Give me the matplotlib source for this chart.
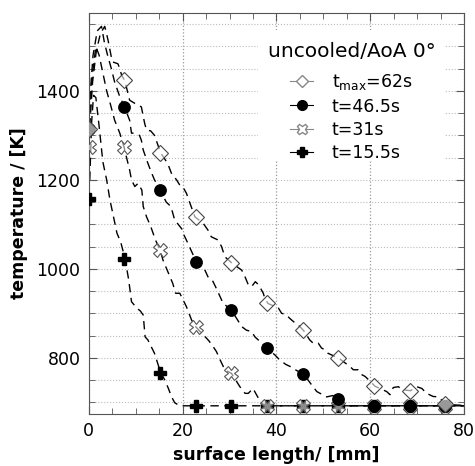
import matplotlib
matplotlib.use("Agg")
import matplotlib.pyplot as plt
from matplotlib.lines import Line2D
from matplotlib.patches import Rectangle
from matplotlib.ticker import MultipleLocator

plt.rcParams['font.family'] = ['DejaVu Sans']

# marker positions along the surface [mm]
mk_x = [0, 7.6, 15.2, 22.8, 30.4, 38.0, 45.6, 53.2, 60.8, 68.4, 76.0]

# marker temperatures [K]
t62_mk = [1315, 1424, 1261, 1117, 1012, 922, 862, 799, 736, 726, 697]
t465_mk = [1315, 1364, 1178, 1016, 907, 822, 763, 707, 692, 692, 692]
t31_mk = [1274, 1274, 1042, 870, 765, 692, 692, 692, 692, 692, 692]
t155_mk = [1157, 1023, 766, 692, 692, 692, 692, 692, 692, 692, 692]

t62_curve = [(0.2, 1320), (0.8, 1420), (1.6, 1490), (2.5, 1530), (3.4, 1545),
             (4.1, 1514), (4.8, 1476), (5.1, 1465), (6.2, 1461), (6.6, 1450),
             (7.0, 1435), (7.6, 1424), (8.0, 1409), (8.7, 1379), (9.8, 1372),
             (11.2, 1364), (11.9, 1327), (12.3, 1312), (13.2, 1310), (14.0, 1300),
             (15.3, 1261), (16.8, 1237), (17.6, 1215), (18.7, 1200), (19.4, 1188),
             (20.0, 1185), (20.8, 1170), (22.6, 1117), (24.4, 1102), (25.4, 1087),
             (26.1, 1072), (27.5, 1065), (28.3, 1050), (29.0, 1027), (30.6, 1012),
             (32.6, 997), (33.3, 982), (34.0, 964), (34.7, 960), (35.5, 971),
             (36.2, 964), (37.2, 945), (37.5, 934), (38.2, 922), (40.4, 912),
             (41.1, 900), (42.0, 897), (43.0, 887), (44.0, 878), (45.0, 870),
             (45.8, 861), (47.1, 840), (47.8, 833), (48.9, 833), (49.6, 822),
             (50.3, 818), (51.0, 810), (53.3, 799), (55.7, 780), (56.4, 773),
             (57.4, 773), (58.2, 762), (58.9, 758), (60.0, 747), (61.0, 736),
             (63.5, 724), (64.2, 717), (64.9, 733), (66.0, 735), (66.8, 728),
             (68.6, 726), (69.9, 735), (71.0, 731), (72.0, 720), (73.4, 713),
             (74.5, 712), (76.1, 697), (78.0, 694), (80.0, 693)]

t465_curve = [(0.2, 1380), (0.9, 1480), (1.8, 1535), (2.7, 1545), (3.3, 1510),
              (4.0, 1480), (4.8, 1450), (5.5, 1420), (6.5, 1390), (7.6, 1364),
              (8.7, 1334), (9.1, 1305), (9.4, 1305), (10.8, 1300), (11.2, 1289),
              (11.6, 1267), (12.6, 1237), (13.4, 1215), (14.0, 1200), (15.2, 1178),
              (16.5, 1150), (17.5, 1140), (18.3, 1110), (19.8, 1090), (20.1, 1080),
              (21.0, 1060), (22.9, 1016), (24.4, 1005), (25.4, 982), (26.3, 975),
              (27.0, 960), (28.0, 937), (28.6, 923), (30.4, 907), (32.6, 870),
              (33.6, 862), (34.7, 859), (35.4, 847), (38.0, 822), (39.7, 806),
              (40.7, 795), (42.0, 785), (43.0, 780), (44.2, 772), (45.9, 762),
              (47.5, 739), (48.6, 724), (49.3, 720), (50.7, 712), (52.0, 715),
              (53.4, 707), (54.5, 694), (56.0, 692), (80.0, 692)]

t31_curve = [(0.2, 1350), (0.8, 1440), (1.5, 1500), (2.2, 1480), (3.0, 1440),
             (3.8, 1400), (4.6, 1370), (5.5, 1334), (6.6, 1305), (7.5, 1274),
             (8.0, 1252), (8.7, 1222), (9.1, 1200), (9.8, 1185), (10.5, 1192),
             (11.3, 1177), (11.6, 1140), (12.3, 1117), (13.2, 1095), (14.2, 1065),
             (15.2, 1042), (15.8, 1020), (17.3, 982), (17.9, 967), (18.5, 945),
             (19.4, 945), (20.1, 930), (20.8, 915), (21.9, 885), (22.7, 871),
             (24.4, 851), (25.0, 845), (25.6, 838), (26.5, 825), (27.2, 814),
             (28.0, 795), (29.0, 773), (30.4, 765), (32.2, 735), (33.3, 720),
             (34.0, 720), (35.0, 731), (36.0, 712), (37.0, 696), (38.0, 692),
             (80.0, 692)]

t155_curve = [(0.2, 1200), (0.6, 1330), (1.0, 1390), (1.5, 1385), (2.2, 1320),
              (3.0, 1240), (3.8, 1200), (4.5, 1155), (5.3, 1115), (6.0, 1080),
              (6.8, 1060), (7.7, 1024), (8.5, 975), (9.1, 926), (10.2, 912),
              (11.0, 905), (11.6, 896), (12.0, 847), (12.6, 840), (14.0, 810),
              (15.3, 767), (16.2, 750), (17.0, 730), (17.6, 713), (18.3, 699),
              (19.2, 693), (20.0, 692), (80.0, 692)]

labels = ['$\\mathregular{t_{max}}$=62s', 't=46.5s', 't=31s', 't=15.5s']

fig = plt.figure(figsize=(4.75, 4.66), dpi=100)
ax = fig.add_axes([0.187, 0.112, 0.79, 0.86])

dash = dict(color='black', lw=1.0, dashes=(6, 4))
for curve in [t62_curve, t465_curve, t31_curve, t155_curve]:
    ax.plot([p[0] for p in curve], [p[1] for p in curve], zorder=2, **dash)

ax.plot(mk_x, t155_mk, ls='none', marker='P', ms=8.5, mfc='black', mec='black', zorder=3)
ax.plot(mk_x, t31_mk, ls='none', marker='X', ms=9.5, mfc=(1, 1, 1, 0.55),
        mec='#555555', mew=0.8, zorder=4)
ax.plot(mk_x, t465_mk, ls='none', marker='o', ms=8.2, mfc='black', mec='black', zorder=5)
ax.plot(mk_x, t62_mk, ls='none', marker='D', ms=8.5, mfc=(1, 1, 1, 0.6),
        mec='#444444', mew=0.8, zorder=6)

ax.set_xlim(0, 80)
ax.set_ylim(674, 1575)
ax.xaxis.set_major_locator(MultipleLocator(20))
ax.xaxis.set_minor_locator(MultipleLocator(5))
ax.yaxis.set_major_locator(MultipleLocator(200))
ax.yaxis.set_minor_locator(MultipleLocator(50))
ax.tick_params(which='both', direction='in', top=True, right=True, labelsize=12.5,
               color='#555555', pad=6)
ax.tick_params(which='major', length=6)
ax.tick_params(which='minor', length=4)
ax.grid(axis='x', which='major', ls=':', color='#999999', lw=0.9)
ax.grid(axis='y', which='both', ls=':', color='#bbbbbb', lw=0.8)
ax.set_axisbelow(True)
for s in ax.spines.values():
    s.set_color('#555555')

ax.set_xlabel('surface length/ [mm]', fontsize=12.5, fontweight='bold', labelpad=4)
ax.set_ylabel('temperature / [K]', fontsize=12.5, fontweight='bold', labelpad=6)

# white patch behind the legend block, hiding the grid there
ax.add_patch(Rectangle((0.45, 0.633), 0.50, 0.325, transform=ax.transAxes,
                       facecolor='white', edgecolor='none', zorder=1))
ax.text(0.70, 0.904, 'uncooled/AoA 0°', transform=ax.transAxes, ha='center',
        va='center', fontsize=14.5, zorder=10)

handles = [
    Line2D([], [], color='#888888', lw=0.8, marker='D', ms=6.5, mfc='white', mec='#888888'),
    Line2D([], [], color='black', lw=0.8, marker='o', ms=7, mfc='black'),
    Line2D([], [], color='#888888', lw=0.8, marker='X', ms=7.5, mfc='white', mec='#888888'),
    Line2D([], [], color='black', lw=0.8, marker='P', ms=7, mfc='black'),
]
leg = ax.legend(handles, labels, loc='upper left', bbox_to_anchor=(0.536, 0.852),
                fontsize=12.5, frameon=False, handlelength=1.33, handletextpad=1.08,
                labelspacing=0.3, borderpad=0, borderaxespad=0)
leg.set_zorder(10)

fig.savefig('out.png', dpi=100)
